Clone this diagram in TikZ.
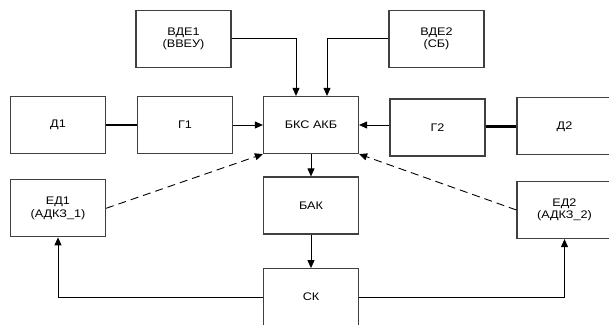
\documentclass[tikz,border=0pt]{standalone}
\usepackage{fontspec}
\setmainfont{Liberation Sans}[FakeStretch=1.15]
\usetikzlibrary{arrows.meta}

\tikzset{
  blok/.style={draw=black!75,line width=1.2pt,minimum width=95pt,minimum height=57pt,
    align=center,font=\fontsize{11}{12.5}\selectfont,inner sep=0pt},
  ->/.style={draw=black,line width=0.9pt,-{Triangle[length=8pt,width=7pt]}},
  tovst/.style={draw=black,line width=2.4pt},
  pune/.style={draw=black,line width=0.9pt,dash pattern=on 8pt off 5pt,-{Triangle[length=8pt,width=7pt]}}
}

\begin{document}
\begin{tikzpicture}[x=1pt,y=-1pt]
    \useasboundingbox (0,0) rectangle (609,324);
    \clip (0,0) rectangle (609,324);
    \node[blok] (vde1) at (183.5,38.7) {ВДЕ1\\(ВВЕУ)};
    \node[blok] (vde2) at (436.5,38.7) {ВДЕ2\\(СБ)};
    \node[blok] (d1) at (58,125) {Д1};
    \node[blok] (g1) at (185,125) {Г1};
    \node[blok] (bks) at (311,125) {БКС АКБ};
    \node[blok] (g2) at (437.5,127.5) {Г2};
    \node[blok] (d2) at (564.5,126.3) {Д2};
    \node[blok] (ed1) at (58,208.3) {ЕД1\\(АДКЗ\_1)};
    \node[blok] (bak) at (311,205.5) {БАК};
    \node[blok] (ed2) at (564.5,210) {ЕД2\\(АДКЗ\_2)};
    \node[blok] (sk) at (311,297.2) {СК};
    \coordinate (vhod1) at ([xshift=-15pt]bks.north);
    \coordinate (vhod2) at ([xshift=16pt]bks.north);
    \draw [->] (vde1.east) -| (vhod1);
    \draw [->] (vde2.west) -| (vhod2);
    \draw [tovst] (d1.east) -- (g1.west);
    \draw [->] (g1) -- (bks);
    \draw [tovst] (g2.east |- d2.west) -- (d2.west);
    \draw [->] (g2.west |- bks.east) -- (bks.east);
    \draw [->] (bks) -- (bak);
    \draw [->] (bak) -- (sk);
    \draw [pune] (ed1.east) -- (bks.south west);
    \draw [pune] (ed2.west) -- (bks.south east);
    \draw [->] (sk.west) -| (ed1.south);
    \draw [->] (sk.east) -| (ed2.south);
\end{tikzpicture}
\end{document}
